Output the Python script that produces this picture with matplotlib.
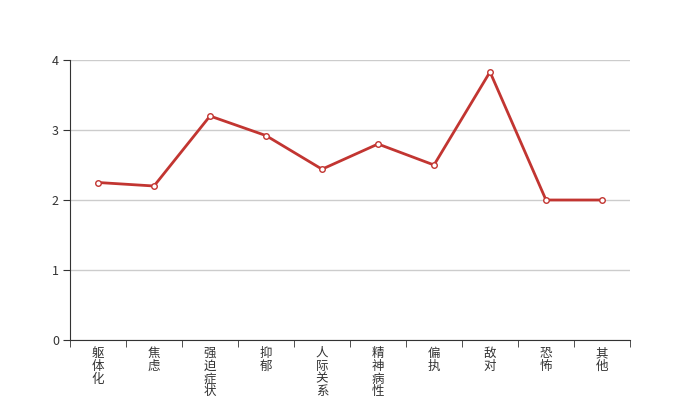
import numpy as np
from matplotlib import pyplot as plt

plt.rcParams['font.family'] = ['Noto Sans CJK SC', 'DejaVu Sans']

# SCL-90 factor scores
categories = ['躯体化', '焦虑', '强迫症状', '抑郁', '人际关系', '精神病性', '偏执', '敌对', '恐怖', '其他']
scores = [2.25, 2.2, 3.2, 2.92, 2.44, 2.8, 2.5, 3.83, 2.0, 2.0]
y_ticks = [0, 1, 2, 3, 4]

fig = plt.figure(figsize=(7, 4), dpi=100)
ax = fig.add_axes([0.1, 0.15, 0.8, 0.7])

x = np.arange(len(categories))
ax.plot(x, scores, color='#c23531', lw=2, marker='o', markersize=4,
        markerfacecolor='white', markeredgecolor='#c23531', markeredgewidth=1, zorder=3)

ax.set_xlim(-0.5, len(categories) - 0.5)
ax.set_ylim(0, 4)
ax.set_yticks(y_ticks)
ax.yaxis.grid(True, color='#cccccc', lw=1)
ax.set_axisbelow(True)

# category labels stacked vertically, one char per line
ax.set_xticks(x)
ax.set_xticklabels(['\n'.join(c) for c in categories], va='top', linespacing=0.98)
ax.set_xticks(np.arange(-0.5, len(categories)), minor=True)
ax.tick_params(axis='x', which='major', length=0, pad=5, labelsize=9, labelcolor='#333333')
ax.tick_params(axis='x', which='minor', length=5, direction='out', color='#333333')
ax.tick_params(axis='y', length=5, color='#333333', labelsize=9, labelcolor='#333333', pad=3)

for side in ['top', 'right']:
    ax.spines[side].set_visible(False)
ax.spines['left'].set_color('#333333')
ax.spines['bottom'].set_color('#333333')

fig.savefig('out.png', dpi=100)
